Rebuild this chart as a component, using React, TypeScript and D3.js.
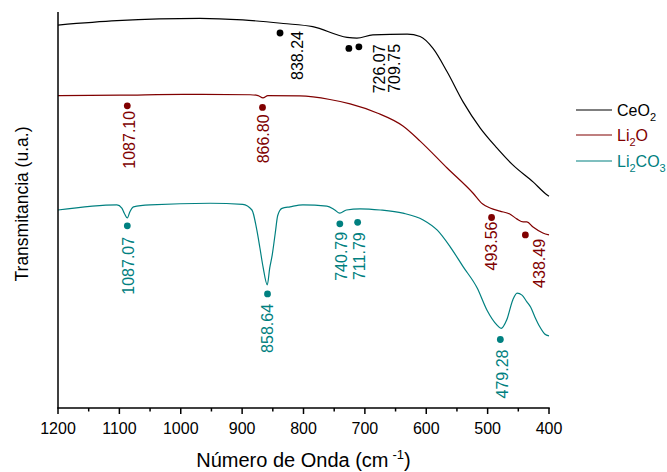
import React from "react";
import * as d3 from "d3";

// ---- Data -----------------------------------------------------------
const majorTicks = [1200, 1100, 1000, 900, 800, 700, 600, 500, 400];
const minorTicks = [1150, 1050, 950, 850, 750, 650, 550, 450];

// CeO2 spectrum (wavenumber, cm^-1 / transmittance, offset a.u.)
const ceo2Wavenumber = [1200, 1104, 969, 899, 833, 785, 729, 713, 687, 631, 610, 589, 566, 540, 512, 485, 459, 426, 403, 400];
const ceo2Signal = [96.7, 97.8, 98.4, 98.0, 97.1, 96.3, 93.6, 93.4, 94.2, 94.4, 93.8, 90.8, 84.9, 77.3, 70.7, 65.7, 61.4, 57.1, 53.8, 53.5];

// Li2O spectrum
const li2oWavenumber = [1200, 1099, 996, 887, 874, 866, 858, 806, 757, 724, 680, 638, 610, 566, 524, 508, 496, 480, 464, 452, 442, 436, 426, 410, 400];
const li2oSignal = [78.9, 79.0, 79.2, 79.1, 78.9, 78.3, 78.9, 78.8, 77.9, 76.8, 74.5, 71.2, 67.4, 60.6, 54.3, 51.5, 50.5, 49.7, 49.0, 47.7, 47.0, 47.0, 45.7, 44.2, 43.7];

// Li2CO3 spectrum
const li2co3Wavenumber = [1200, 1104, 1096, 1092, 1087, 1083, 1077, 1050, 952, 899, 884, 876, 871, 866, 859, 855, 851, 846, 842, 835, 822, 801, 762, 749, 741, 730, 708, 675, 638, 605, 582, 561, 540, 517, 501, 485, 478, 469, 459, 452, 444, 436, 430, 423, 415, 407, 400];
const li2co3Signal = [50.0, 51.3, 50.5, 49.2, 48.0, 49.5, 50.8, 51.3, 51.7, 51.4, 50.0, 44.9, 40.4, 35.7, 31.1, 35.4, 38.6, 44.2, 48.6, 50.4, 50.8, 51.3, 51.0, 50.0, 49.2, 50.0, 50.3, 50.0, 49.2, 47.5, 44.9, 40.7, 35.7, 30.3, 24.7, 21.0, 20.1, 22.2, 27.3, 29.0, 28.5, 26.8, 25.5, 23.0, 20.5, 18.7, 18.2];

// Marked bands: wavenumber and marker level
const ceo2Peaks = [838.24, 726.07, 709.75];
const ceo2PeakLevels = [94.7, 90.8, 91.2];
const li2oPeaks = [1087.10, 866.80, 493.56, 438.49];
const li2oPeakLevels = [76.3, 75.9, 48.1, 43.7];
const li2co3Peaks = [1087.07, 858.64, 740.79, 711.79, 479.28];
const li2co3PeakLevels = [46.0, 28.8, 46.5, 46.9, 17.3];

// Label placement relative to each marker (px)
const ceo2LabelOffsets = [[17, -2], [30, -4], [35, -3]];
const li2oLabelOffsets = [[2, 5], [1, 7], [0, 4], [14, 4]];
const li2co3LabelOffsets = [[1, 11], [0, 10], [1, 8], [2, 10], [2, 10]];

const seriesNames = ["CeO", "Li", "Li"];

// ---- Layout ---------------------------------------------------------
const W = 667;
const H = 472;
const plotLeft = 58;
const plotRight = 549;
const plotTop = 12;
const plotBottom = 408;

const BLACK = "#000000";
const WINE = "#800000";
const TEAL = "#008080";
const FONT = "Arial, 'Liberation Sans', Helvetica, sans-serif";

export default function App() {
  const x = d3.scaleLinear().domain([1200, 400]).range([plotLeft, plotRight]);
  const y = d3.scaleLinear().domain([0, 100]).range([plotBottom, plotTop]);

  const line = d3
    .line<[number, number]>()
    .x((d) => x(d[0]))
    .y((d) => y(d[1]))
    .curve(d3.curveMonotoneX);

  const series = [
    {
      color: BLACK,
      data: d3.zip(ceo2Wavenumber, ceo2Signal) as [number, number][],
      peaks: ceo2Peaks,
      levels: ceo2PeakLevels,
      offsets: ceo2LabelOffsets,
    },
    {
      color: WINE,
      data: d3.zip(li2oWavenumber, li2oSignal) as [number, number][],
      peaks: li2oPeaks,
      levels: li2oPeakLevels,
      offsets: li2oLabelOffsets,
    },
    {
      color: TEAL,
      data: d3.zip(li2co3Wavenumber, li2co3Signal) as [number, number][],
      peaks: li2co3Peaks,
      levels: li2co3PeakLevels,
      offsets: li2co3LabelOffsets,
    },
  ];

  const legendY = [110, 135, 161];
  const legendColors = [BLACK, WINE, TEAL];

  return (
    <svg
      width={W}
      height={H}
      viewBox={`0 0 ${W} ${H}`}
      style={{ position: "absolute", left: 0, top: 0, background: "#fff" }}
      fontFamily={FONT}
    >
      <rect x={0} y={0} width={W} height={H} fill="#fff" />

      {/* spectra */}
      {series.map((s, i) => (
        <path key={`line-${i}`} d={line(s.data) || ""} fill="none" stroke={s.color} strokeWidth={1.2} />
      ))}

      {/* band markers and labels */}
      {series.map((s, i) =>
        s.peaks.map((p, j) => {
          const cx = x(p);
          const cy = y(s.levels[j]);
          const [dx, dy] = s.offsets[j];
          return (
            <g key={`pk-${i}-${j}`}>
              <circle cx={cx} cy={cy} r={3.4} fill={s.color} />
              <text
                transform={`translate(${cx + dx},${cy + dy}) rotate(-90)`}
                textAnchor="end"
                dy="0.36em"
                fontSize={16}
                fill={s.color}
              >
                {p.toFixed(2)}
              </text>
            </g>
          );
        })
      )}

      {/* axes */}
      <line x1={plotLeft} x2={plotLeft} y1={plotTop} y2={plotBottom} stroke="#000" strokeWidth={1.5} />
      <line x1={plotLeft - 0.75} x2={plotRight + 0.75} y1={plotBottom} y2={plotBottom} stroke="#000" strokeWidth={1.5} />
      {majorTicks.map((t) => (
        <g key={`mt-${t}`}>
          <line x1={x(t)} x2={x(t)} y1={plotBottom} y2={plotBottom + 6} stroke="#000" strokeWidth={1.5} />
          <text x={x(t)} y={plotBottom + 26} textAnchor="middle" fontSize={16} fill="#000">
            {t}
          </text>
        </g>
      ))}
      {minorTicks.map((t) => (
        <line key={`nt-${t}`} x1={x(t)} x2={x(t)} y1={plotBottom} y2={plotBottom + 3.5} stroke="#000" strokeWidth={1.5} />
      ))}

      {/* axis titles */}
      <text x={(plotLeft + plotRight) / 2} y={467} textAnchor="middle" fontSize={20} fill="#000">
        Número de Onda (cm
        <tspan dx={4} dy={-8} fontSize={13}>-1</tspan>
        <tspan dy={8}>)</tspan>
      </text>
      <text
        transform={`translate(28,204) rotate(-90)`}
        textAnchor="middle"
        fontSize={17.5}
        fill="#000"
      >
        Transmitancia (u.a.)
      </text>

      {/* legend */}
      {legendY.map((ly, i) => (
        <g key={`lg-${i}`}>
          <line x1={576} x2={612} y1={ly} y2={ly} stroke={legendColors[i]} strokeWidth={1.2} />
          <text x={617} y={ly} dy="0.36em" fontSize={16} fill={legendColors[i]}>
            {i === 0 && (
              <>
                {seriesNames[0]}
                <tspan dy={5} fontSize={11}>2</tspan>
              </>
            )}
            {i === 1 && (
              <>
                {seriesNames[1]}
                <tspan dy={5} fontSize={11}>2</tspan>
                <tspan dy={-5}>O</tspan>
              </>
            )}
            {i === 2 && (
              <>
                {seriesNames[2]}
                <tspan dy={5} fontSize={11}>2</tspan>
                <tspan dy={-5}>CO</tspan>
                <tspan dy={5} fontSize={11}>3</tspan>
              </>
            )}
          </text>
        </g>
      ))}
    </svg>
  );
}
